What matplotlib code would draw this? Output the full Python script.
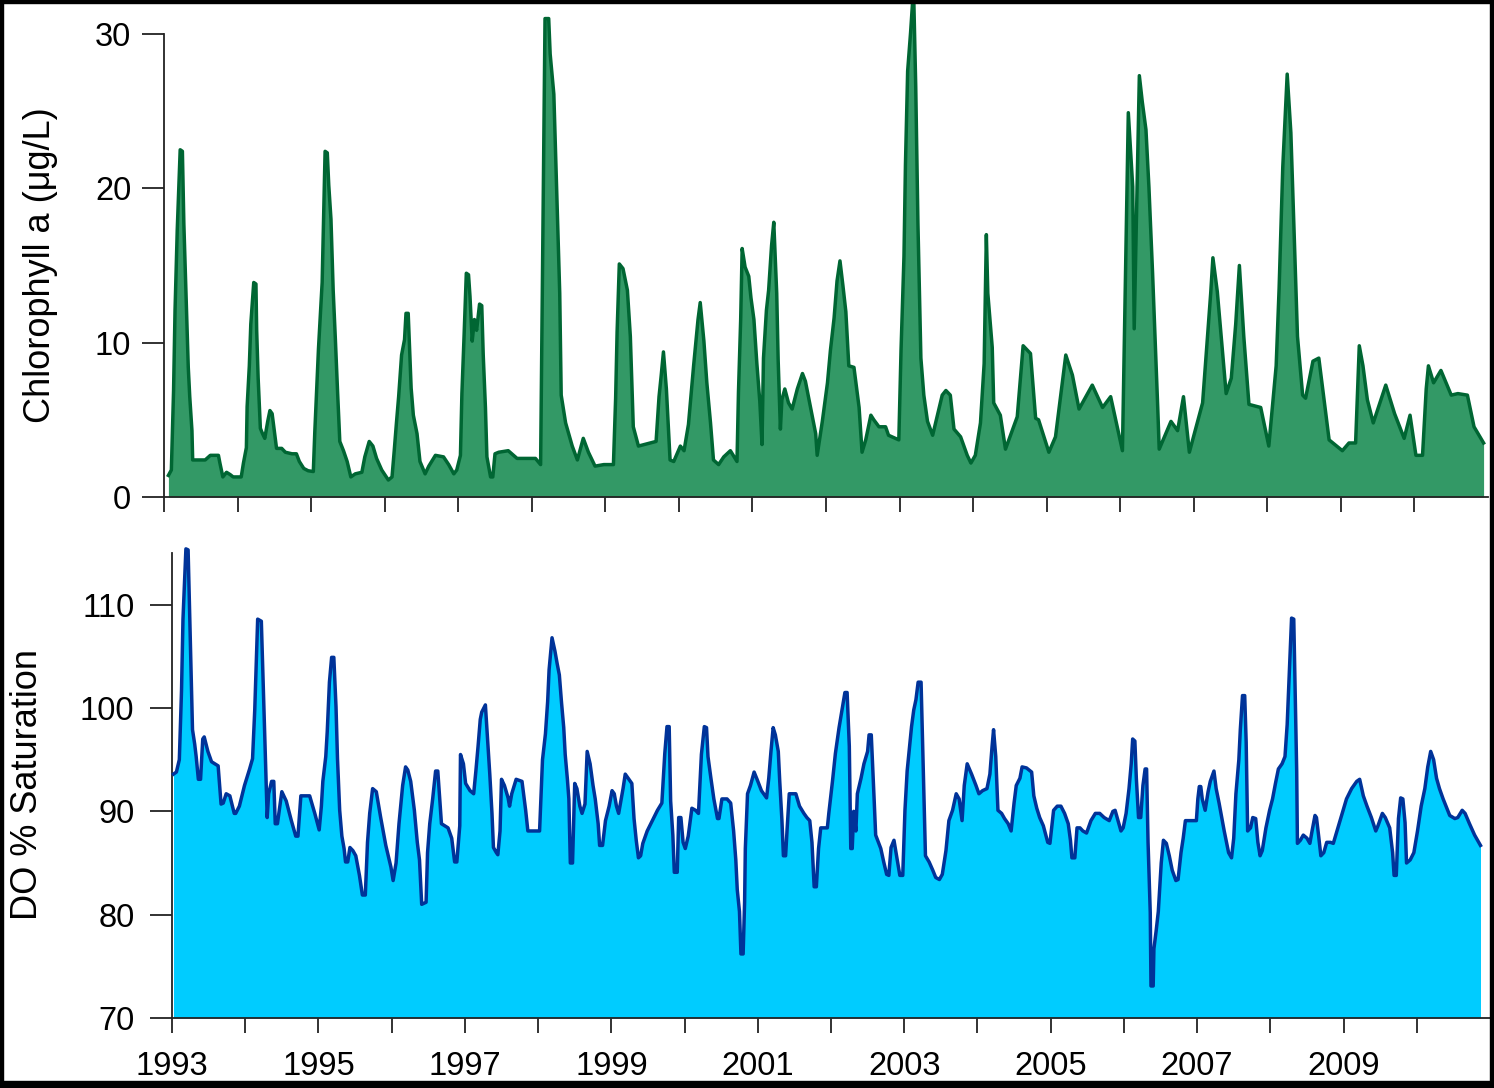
import matplotlib
matplotlib.use("Agg")
import matplotlib.pyplot as plt
from matplotlib.patches import Rectangle

# Chlorophyll a (ug/L), decimal year vs concentration
chl_year = [
    1993.06, 1993.10, 1993.13, 1993.15, 1993.18, 1993.22, 1993.25, 1993.27, 1993.30, 1993.33,
    1993.35, 1993.38, 1993.39, 1993.56, 1993.63, 1993.74, 1993.76, 1993.80, 1993.85, 1993.90,
    1993.94, 1994.05, 1994.08, 1994.12, 1994.13, 1994.16, 1994.18, 1994.22, 1994.25, 1994.26,
    1994.28, 1994.31, 1994.34, 1994.37, 1994.41, 1994.44, 1994.47, 1994.50, 1994.53, 1994.60,
    1994.65, 1994.74, 1994.80, 1994.84, 1994.90, 1994.96, 1995.03, 1995.05, 1995.10, 1995.15,
    1995.17, 1995.19, 1995.22, 1995.24, 1995.27, 1995.30, 1995.33, 1995.36, 1995.39, 1995.44,
    1995.49, 1995.54, 1995.60, 1995.69, 1995.73, 1995.79, 1995.84, 1995.89, 1995.96, 1996.05,
    1996.10, 1996.13, 1996.16, 1996.19, 1996.21, 1996.23, 1996.27, 1996.29, 1996.32, 1996.34,
    1996.36, 1996.39, 1996.44, 1996.48, 1996.55, 1996.60, 1996.69, 1996.80, 1996.87, 1996.94,
    1996.98, 1997.03, 1997.05, 1997.08, 1997.11, 1997.14, 1997.16, 1997.19, 1997.22, 1997.25,
    1997.29, 1997.32, 1997.34, 1997.37, 1997.39, 1997.44, 1997.47, 1997.50, 1997.55, 1997.68,
    1997.80, 1998.05, 1998.12, 1998.14, 1998.16, 1998.18, 1998.23, 1998.25, 1998.30, 1998.34,
    1998.38, 1998.40, 1998.46, 1998.55, 1998.62, 1998.70, 1998.77, 1998.86, 1998.98, 1999.11,
    1999.14, 1999.16, 1999.19, 1999.24, 1999.30, 1999.34, 1999.38, 1999.45, 1999.61, 1999.69,
    1999.73, 1999.76, 1999.79, 1999.83, 1999.88, 1999.93, 2000.02, 2000.07, 2000.13, 2000.20,
    2000.26, 2000.29, 2000.34, 2000.38, 2000.43, 2000.47, 2000.54, 2000.61, 2000.70, 2000.79,
    2000.81, 2000.84, 2000.86, 2000.90, 2000.95, 2000.98, 2001.02, 2001.06, 2001.10, 2001.13,
    2001.15, 2001.19, 2001.22, 2001.26, 2001.29, 2001.33, 2001.35, 2001.38, 2001.40, 2001.44,
    2001.49, 2001.54, 2001.61, 2001.68, 2001.72, 2001.79, 2001.86, 2001.88, 2001.95, 2002.02,
    2002.06, 2002.11, 2002.15, 2002.19, 2002.23, 2002.27, 2002.31, 2002.38, 2002.45, 2002.49,
    2002.54, 2002.61, 2002.65, 2002.72, 2002.81, 2002.85, 2002.99, 2003.02, 2003.06, 2003.08,
    2003.11, 2003.15, 2003.19, 2003.22, 2003.25, 2003.29, 2003.33, 2003.38, 2003.45, 2003.51,
    2003.58, 2003.63, 2003.69, 2003.74, 2003.83, 2003.92, 2003.97, 2004.03, 2004.10, 2004.15,
    2004.18, 2004.20, 2004.26, 2004.28, 2004.37, 2004.44, 2004.60, 2004.68, 2004.78, 2004.85,
    2004.89, 2005.03, 2005.12, 2005.26, 2005.35, 2005.44, 2005.62, 2005.76, 2005.87, 2006.03,
    2006.05, 2006.07, 2006.11, 2006.17, 2006.19, 2006.21, 2006.26, 2006.30, 2006.35, 2006.39,
    2006.44, 2006.51, 2006.53, 2006.69, 2006.78, 2006.86, 2006.94, 2007.12, 2007.23, 2007.26,
    2007.32, 2007.44, 2007.51, 2007.57, 2007.62, 2007.68, 2007.75, 2007.91, 2008.02, 2008.12,
    2008.16, 2008.21, 2008.24, 2008.27, 2008.32, 2008.37, 2008.41, 2008.48, 2008.52, 2008.62,
    2008.70, 2008.84, 2009.02, 2009.11, 2009.20, 2009.25, 2009.30, 2009.36, 2009.44, 2009.61,
    2009.73, 2009.86, 2009.94, 2010.02, 2010.11, 2010.16, 2010.19, 2010.26, 2010.36, 2010.50,
    2010.59, 2010.72, 2010.81, 2010.94,
]
chl_value = [
    1.4, 1.75, 6.9, 12.1, 17.3, 22.5, 22.4, 17.7, 13.1, 8.4,
    6.5, 4.3, 2.4, 2.4, 2.7, 2.7, 2.2, 1.3, 1.6, 1.45,
    1.3, 1.3, 2.2, 3.2, 5.85, 8.5, 11.2, 13.9, 13.8, 10.8,
    7.7, 4.45, 4.1, 3.8, 4.9, 5.6, 5.4, 4.3, 3.15, 3.15,
    2.9, 2.8, 2.8, 2.3, 1.85, 1.7, 1.65, 4.2, 9.6, 13.9,
    18.1, 22.4, 22.3, 20.2, 18.0, 13.4, 10.2, 6.8, 3.6, 3.0,
    2.3, 1.3, 1.5, 1.6, 2.6, 3.6, 3.3, 2.5, 1.75, 1.1,
    1.3, 3.0, 4.8, 6.5, 7.9, 9.2, 10.2, 11.9, 11.9, 9.4,
    7.05, 5.3, 4.1, 2.3, 1.5, 2.0, 2.7, 2.6, 2.1, 1.5,
    1.75, 2.7, 6.7, 10.5, 14.5, 14.4, 13.0, 10.1, 11.5, 10.8,
    12.5, 12.4, 9.2, 5.8, 2.6, 1.3, 1.3, 2.8, 2.9, 3.0,
    2.5, 2.5, 2.1, 11.7, 21.4, 31.0, 31.0, 28.7, 26.1, 19.7,
    13.2, 6.6, 4.8, 3.3, 2.4, 3.8, 2.9, 2.0, 2.1, 2.1,
    6.4, 10.7, 15.1, 14.8, 13.4, 10.4, 4.55, 3.3, 3.5, 3.6,
    6.5, 7.9, 9.4, 7.0, 2.4, 2.3, 3.3, 3.0, 4.7, 8.5,
    11.5, 12.6, 10.1, 7.4, 4.8, 2.4, 2.1, 2.6, 3.0, 2.3,
    6.8, 11.5, 16.1, 14.9, 14.3, 12.9, 11.5, 8.65, 6.2, 3.4,
    9.0, 12.1, 13.4, 16.3, 17.8, 13.2, 8.8, 4.4, 6.3, 7.0,
    6.1, 5.7, 7.0, 8.0, 7.5, 5.8, 4.1, 2.7, 4.9, 7.4,
    9.5, 11.6, 14.0, 15.3, 13.7, 12.0, 8.5, 8.4, 5.8, 2.9,
    3.7, 5.3, 5.0, 4.55, 4.55, 4.0, 3.7, 9.5, 15.6, 21.5,
    27.6, 30.1, 33.0, 26.6, 17.7, 9.0, 6.6, 4.9, 4.0, 5.2,
    6.6, 6.9, 6.6, 4.4, 3.9, 2.7, 2.2, 2.7, 4.8, 8.65,
    17.0, 13.2, 9.7, 6.1, 5.3, 3.1, 5.2, 9.8, 9.3, 5.1,
    5.0, 2.9, 3.9, 9.2, 7.9, 5.7, 7.25, 5.8, 6.5, 3.0,
    8.4, 13.9, 24.9, 20.1, 10.9, 15.6, 27.3, 25.6, 23.8, 20.1,
    14.5, 5.8, 3.1, 4.9, 4.3, 6.5, 2.9, 6.1, 13.2, 15.5,
    13.3, 6.7, 7.7, 11.2, 15.0, 10.4, 6.0, 5.8, 3.3, 8.5,
    13.5, 21.4, 24.4, 27.4, 23.6, 16.2, 10.4, 6.6, 6.4, 8.8,
    9.0, 3.7, 3.0, 3.5, 3.5, 9.8, 8.5, 6.3, 4.8, 7.25,
    5.4, 3.8, 5.3, 2.7, 2.7, 7.0, 8.5, 7.4, 8.2, 6.6,
    6.7, 6.6, 4.55, 3.5,
]

# Dissolved oxygen, percent saturation
do_year = [
    1993.02, 1993.06, 1993.10, 1993.13, 1993.15, 1993.19, 1993.22, 1993.24, 1993.26, 1993.28,
    1993.31, 1993.33, 1993.36, 1993.39, 1993.42, 1993.44, 1993.49, 1993.54, 1993.63, 1993.67,
    1993.70, 1993.74, 1993.79, 1993.85, 1993.87, 1993.92, 1993.99, 1994.06, 1994.10, 1994.13,
    1994.15, 1994.17, 1994.22, 1994.24, 1994.26, 1994.28, 1994.30, 1994.32, 1994.36, 1994.39,
    1994.41, 1994.44, 1994.50, 1994.56, 1994.63, 1994.69, 1994.72, 1994.76, 1994.88, 1994.95,
    1995.01, 1995.04, 1995.06, 1995.10, 1995.12, 1995.15, 1995.18, 1995.21, 1995.24, 1995.26,
    1995.29, 1995.32, 1995.35, 1995.37, 1995.40, 1995.43, 1995.47, 1995.51, 1995.56, 1995.60,
    1995.64, 1995.67, 1995.70, 1995.74, 1995.79, 1995.85, 1995.92, 1995.99, 1996.02, 1996.06,
    1996.10, 1996.15, 1996.19, 1996.22, 1996.26, 1996.31, 1996.35, 1996.38, 1996.41, 1996.47,
    1996.49, 1996.52, 1996.56, 1996.60, 1996.63, 1996.68, 1996.77, 1996.82, 1996.86, 1996.89,
    1996.93, 1996.94, 1996.98, 1997.01, 1997.07, 1997.12, 1997.15, 1997.18, 1997.21, 1997.23,
    1997.28, 1997.31, 1997.34, 1997.37, 1997.39, 1997.43, 1997.45, 1997.48, 1997.50, 1997.54,
    1997.59, 1997.61, 1997.64, 1997.70, 1997.78, 1997.83, 1997.86, 1998.02, 1998.06, 1998.10,
    1998.13, 1998.15, 1998.19, 1998.23, 1998.26, 1998.29, 1998.32, 1998.35, 1998.37, 1998.40,
    1998.42, 1998.44, 1998.47, 1998.50, 1998.53, 1998.57, 1998.60, 1998.64, 1998.67, 1998.71,
    1998.75, 1998.78, 1998.82, 1998.84, 1998.88, 1998.92, 1998.97, 1999.01, 1999.04, 1999.07,
    1999.10, 1999.13, 1999.16, 1999.19, 1999.23, 1999.28, 1999.31, 1999.34, 1999.37, 1999.40,
    1999.43, 1999.49, 1999.56, 1999.63, 1999.69, 1999.73, 1999.76, 1999.79, 1999.81, 1999.84,
    1999.86, 1999.90, 1999.92, 1999.95, 1999.98, 2000.01, 2000.05, 2000.10, 2000.15, 2000.19,
    2000.23, 2000.27, 2000.30, 2000.32, 2000.36, 2000.40, 2000.45, 2000.47, 2000.51, 2000.58,
    2000.63, 2000.67, 2000.70, 2000.72, 2000.75, 2000.77, 2000.80, 2000.82, 2000.83, 2000.86,
    2000.90, 2000.95, 2000.99, 2001.05, 2001.12, 2001.15, 2001.18, 2001.21, 2001.24, 2001.28,
    2001.30, 2001.33, 2001.35, 2001.38, 2001.40, 2001.43, 2001.52, 2001.57, 2001.63, 2001.67,
    2001.71, 2001.74, 2001.77, 2001.80, 2001.83, 2001.86, 2001.95, 2001.97, 2002.02, 2002.06,
    2002.11, 2002.15, 2002.19, 2002.22, 2002.25, 2002.27, 2002.29, 2002.31, 2002.34, 2002.36,
    2002.41, 2002.45, 2002.50, 2002.52, 2002.55, 2002.57, 2002.59, 2002.61, 2002.68, 2002.72,
    2002.76, 2002.79, 2002.82, 2002.86, 2002.91, 2002.94, 2002.98, 2003.01, 2003.04, 2003.08,
    2003.10, 2003.13, 2003.16, 2003.19, 2003.23, 2003.25, 2003.27, 2003.29, 2003.34, 2003.39,
    2003.43, 2003.48, 2003.52, 2003.57, 2003.61, 2003.66, 2003.71, 2003.75, 2003.79, 2003.82,
    2003.86, 2003.92, 2003.98, 2004.02, 2004.07, 2004.13, 2004.17, 2004.20, 2004.22, 2004.25,
    2004.28, 2004.33, 2004.37, 2004.42, 2004.46, 2004.50, 2004.53, 2004.58, 2004.61, 2004.67,
    2004.74, 2004.77, 2004.81, 2004.85, 2004.90, 2004.96, 2004.99, 2005.04, 2005.09, 2005.14,
    2005.19, 2005.24, 2005.27, 2005.29, 2005.33, 2005.36, 2005.40, 2005.44, 2005.49, 2005.55,
    2005.61, 2005.67, 2005.73, 2005.80, 2005.85, 2005.88, 2005.92, 2005.96, 2005.99, 2006.03,
    2006.07, 2006.10, 2006.12, 2006.15, 2006.17, 2006.20, 2006.23, 2006.26, 2006.29, 2006.31,
    2006.33, 2006.36, 2006.37, 2006.40, 2006.41, 2006.44, 2006.47, 2006.49, 2006.51, 2006.54,
    2006.58, 2006.62, 2006.66, 2006.71, 2006.74, 2006.78, 2006.81, 2006.84, 2006.94, 2006.99,
    2007.01, 2007.03, 2007.05, 2007.07, 2007.11, 2007.15, 2007.18, 2007.23, 2007.26, 2007.30,
    2007.37, 2007.43, 2007.47, 2007.50, 2007.53, 2007.57, 2007.59, 2007.62, 2007.65, 2007.67,
    2007.69, 2007.73, 2007.76, 2007.80, 2007.83, 2007.86, 2007.89, 2007.94, 2007.99, 2008.03,
    2008.07, 2008.11, 2008.16, 2008.20, 2008.23, 2008.25, 2008.27, 2008.29, 2008.32, 2008.34,
    2008.36, 2008.37, 2008.41, 2008.45, 2008.50, 2008.54, 2008.57, 2008.61, 2008.63, 2008.66,
    2008.69, 2008.73, 2008.77, 2008.82, 2008.86, 2008.91, 2008.98, 2009.04, 2009.11, 2009.18,
    2009.22, 2009.27, 2009.32, 2009.38, 2009.44, 2009.47, 2009.53, 2009.57, 2009.63, 2009.67,
    2009.69, 2009.72, 2009.75, 2009.78, 2009.81, 2009.84, 2009.86, 2009.91, 2009.96, 2010.01,
    2010.06, 2010.11, 2010.15, 2010.19, 2010.23, 2010.27, 2010.31, 2010.36, 2010.40, 2010.45,
    2010.52, 2010.56, 2010.62, 2010.66, 2010.72, 2010.79, 2010.87,
]
do_value = [
    93.6, 93.8, 95.0, 101.7, 108.6, 115.4, 115.3, 109.4, 103.7, 97.9,
    96.5, 95.3, 93.1, 93.1, 97.0, 97.2, 95.8, 94.8, 94.4, 90.7,
    90.8, 91.7, 91.5, 89.8, 89.8, 90.5, 92.5, 94.1, 95.1, 99.8,
    104.1, 108.6, 108.4, 103.6, 98.7, 94.1, 89.4, 91.7, 92.9, 92.9,
    88.8, 88.8, 91.9, 91.0, 89.1, 87.6, 87.6, 91.5, 91.5, 89.8,
    88.2, 90.5, 92.9, 95.3, 97.7, 102.5, 104.9, 104.9, 100.1, 95.1,
    90.1, 87.6, 86.4, 85.1, 85.1, 86.5, 86.2, 85.7, 83.8, 81.9,
    81.9, 87.0, 89.8, 92.2, 91.9, 89.4, 86.7, 84.6, 83.3, 85.0,
    88.8, 92.5, 94.3, 94.0, 92.9, 90.1, 87.0, 85.3, 81.0, 81.2,
    86.0, 88.8, 91.2, 93.9, 93.9, 88.8, 88.4, 87.4, 85.1, 85.1,
    88.6, 95.5, 94.6, 92.7, 92.0, 91.7, 93.9, 96.3, 98.9, 99.6,
    100.3, 96.9, 93.6, 89.8, 86.5, 86.0, 85.8, 88.1, 93.1, 92.5,
    91.3, 90.5, 91.7, 93.1, 92.9, 90.1, 88.1, 88.1, 95.0, 97.5,
    100.6, 103.7, 106.8, 105.5, 104.3, 103.2, 100.5, 98.1, 95.5, 93.1,
    91.2, 85.0, 85.0, 92.7, 92.2, 90.5, 89.8, 90.7, 95.8, 94.6,
    92.5, 91.2, 88.8, 86.7, 86.7, 89.1, 90.5, 92.0, 91.7, 90.5,
    89.8, 91.0, 92.2, 93.6, 93.2, 92.7, 89.3, 87.2, 85.5, 85.7,
    86.9, 88.1, 89.1, 90.1, 90.8, 95.6, 98.2, 98.2, 91.0, 87.7,
    84.1, 84.1, 89.4, 89.4, 87.0, 86.4, 87.6, 90.3, 90.1, 89.8,
    95.5, 98.2, 98.1, 95.3, 93.2, 91.2, 89.3, 89.3, 91.2, 91.2,
    90.8, 88.1, 85.3, 82.4, 80.3, 76.2, 76.2, 81.2, 86.4, 91.7,
    92.5, 93.8, 93.1, 92.0, 91.3, 93.2, 95.8, 98.1, 97.4, 95.8,
    92.9, 89.1, 85.7, 85.7, 88.2, 91.7, 91.7, 90.5, 89.8, 89.4,
    89.1, 87.0, 82.7, 82.7, 86.4, 88.4, 88.4, 89.8, 92.9, 95.6,
    98.1, 99.8, 101.5, 101.5, 96.3, 86.4, 86.4, 90.0, 88.1, 91.7,
    93.2, 94.6, 95.8, 97.4, 97.4, 94.3, 91.0, 87.7, 86.4, 85.1,
    83.9, 83.8, 86.5, 87.2, 85.1, 83.8, 83.8, 90.1, 93.9, 96.7,
    98.2, 99.8, 100.8, 102.5, 102.5, 97.0, 91.9, 85.7, 85.1, 84.3,
    83.6, 83.4, 83.9, 86.2, 89.1, 90.1, 91.7, 91.2, 89.1, 92.5,
    94.6, 93.6, 92.5, 91.7, 92.0, 92.2, 93.6, 96.3, 97.9, 95.3,
    90.1, 89.8, 89.3, 88.8, 88.1, 90.8, 92.5, 93.2, 94.3, 94.2,
    93.8, 91.5, 90.3, 89.4, 88.6, 87.0, 86.9, 90.1, 90.5, 90.5,
    89.8, 88.8, 87.2, 85.5, 85.5, 88.4, 88.4, 88.1, 87.9, 89.1,
    89.8, 89.8, 89.4, 89.1, 90.0, 90.1, 89.1, 88.1, 88.4, 89.8,
    92.2, 94.6, 97.0, 96.8, 93.2, 89.4, 89.4, 92.5, 94.1, 94.1,
    87.0, 80.2, 73.1, 73.1, 76.7, 78.4, 80.3, 82.7, 85.0, 87.2,
    86.9, 85.7, 84.3, 83.3, 83.4, 86.0, 87.4, 89.1, 89.1, 89.1,
    91.2, 92.4, 92.4, 91.2, 90.1, 91.9, 92.9, 93.9, 92.2, 90.8,
    88.1, 86.0, 85.5, 87.4, 91.7, 95.0, 97.9, 101.2, 101.2, 96.7,
    88.1, 88.4, 89.4, 89.3, 87.0, 85.7, 86.2, 88.4, 90.1, 91.2,
    92.7, 94.1, 94.6, 95.3, 98.4, 101.8, 105.3, 108.7, 108.6, 101.2,
    93.9, 86.9, 87.2, 87.7, 87.4, 86.9, 88.1, 89.6, 89.4, 87.6,
    85.7, 86.0, 87.0, 87.0, 86.9, 88.1, 89.8, 91.2, 92.2, 92.9,
    93.1, 91.5, 90.5, 89.4, 88.1, 88.6, 89.8, 89.4, 88.4, 86.0,
    83.8, 83.8, 89.3, 91.3, 91.2, 88.9, 85.0, 85.3, 86.0, 88.1,
    90.5, 92.2, 94.3, 95.8, 95.0, 93.2, 92.2, 91.2, 90.5, 89.6,
    89.3, 89.4, 90.1, 89.8, 88.8, 87.7, 86.7,
]

year_ticks = list(range(1993, 2011))
year_labels = [str(y) if (y - 1993) % 2 == 0 else "" for y in year_ticks]
chl_ticks = [0, 10, 20, 30]
do_ticks = [70, 80, 90, 100, 110]

plt.rcParams["font.family"] = ["Liberation Sans", "DejaVu Sans"]

W, H = 1494, 1088
fig = plt.figure(figsize=(W / 100, H / 100), dpi=100)
fig.patch.set_facecolor("white")


def px_axes(left, top, right, bottom):
    return fig.add_axes([left / W, 1 - bottom / H, (right - left) / W, (bottom - top) / H])


ax1 = px_axes(164, 34, 1488, 497)
ax2 = px_axes(172, 553, 1490, 1018)

axis_color = "#222222"
for ax, ypad in ((ax1, 7.5), (ax2, 11)):
    ax.set_facecolor("white")
    for side in ("top", "right"):
        ax.spines[side].set_visible(False)
    for side in ("left", "bottom"):
        ax.spines[side].set_color(axis_color)
        ax.spines[side].set_linewidth(1.3)
    ax.set_xlim(1993, 2011)
    ax.set_xticks(year_ticks)
    ax.tick_params(axis="x", direction="out", length=11, width=1.3, color=axis_color,
                   labelsize=23.5, pad=13)
    ax.tick_params(axis="y", direction="out", length=16, width=1.3, color=axis_color,
                   labelsize=23.5, pad=ypad)

# Chlorophyll panel
ax1.fill_between(chl_year, chl_value, 0, color="#339966", lw=0, clip_on=False, zorder=2)
ax1.plot(chl_year, chl_value, color="#006633", lw=2.5, clip_on=False, zorder=3)
ax1.set_ylim(0, 30)
ax1.set_yticks(chl_ticks)
ax1.set_xticklabels([])

# Dissolved oxygen panel
ax2.fill_between(do_year, do_value, 70, color="#00CCFF", lw=0, clip_on=False, zorder=2)
ax2.plot(do_year, do_value, color="#003399", lw=2.5, clip_on=False, zorder=3)
ax2.set_ylim(70, 115)
ax2.set_yticks(do_ticks)
ax2.set_xticklabels(year_labels)

fig.text(41 / W, 1 - 265 / H, "Chlorophyll a (\u03bcg/L)", rotation=90,
         ha="center", va="center", fontsize=26)
fig.text(28 / W, 1 - 785 / H, "DO % Saturation", rotation=90,
         ha="center", va="center", fontsize=26)

# Black frame around the whole figure
for (x0, y0, w, h) in [(0, 0, W, 3), (0, H - 7, W, 7), (0, 0, 3, H), (W - 4, 0, 4, H)]:
    fig.patches.append(Rectangle((x0 / W, 1 - (y0 + h) / H), w / W, h / H,
                                 transform=fig.transFigure, color="black", zorder=100))

fig.savefig("out.png", dpi=100)
